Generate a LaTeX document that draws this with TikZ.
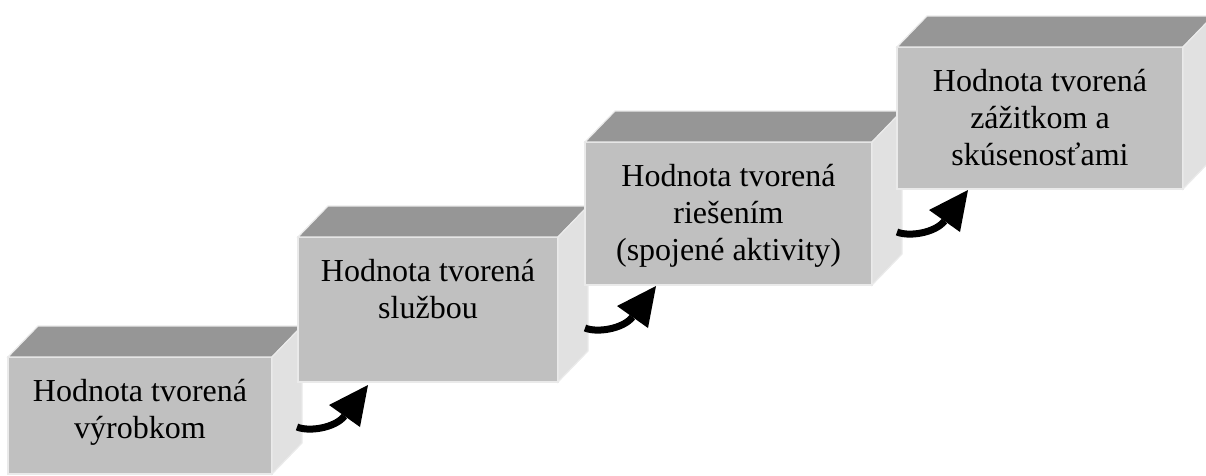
\documentclass[tikz,border=0pt]{standalone}
\usepackage{fontspec}
\setmainfont{Liberation Serif}
\usetikzlibrary{calc}
\definecolor{facefront}{HTML}{C0C0C0}
\definecolor{facetop}{HTML}{969696}
\definecolor{faceside}{HTML}{E1E1E1}
\definecolor{faceedge}{HTML}{EAEAEA}
\tikzset{
  frontface/.style={rectangle, fill=facefront, draw=faceedge, line width=1.2pt,
    inner sep=0pt, outer sep=0pt, anchor=north west},
  otherface/.style={draw=faceedge, line width=1.2pt, line join=miter},
  blocktext/.style={anchor=north, align=center, inner sep=0pt,
    font=\fontsize{32}{37}\selectfont},
  shaft/.style={line width=7pt, black},
  arrowhead/.style={fill=black, draw=none}
}
% one cuboid: name, left, top, width, height
\newcommand\tvblock[5]{%
  \node[frontface, minimum width=#4pt, minimum height=#5pt] (#1) at (#2,#3) {};
  \draw[otherface, fill=facetop] (#1.north west) -- ($(#1.north west)+(30,-31)$)
    -- ($(#1.north east)+(30,-31)$) -- (#1.north east) -- cycle;
  \draw[otherface, fill=faceside] (#1.north east) -- ($(#1.north east)+(30,-31)$)
    -- ($(#1.south east)+(30,-31)$) -- (#1.south east) -- cycle;
}
% curved arrow from a tail coordinate
\newcommand\tvarrow[1]{%
  \draw[shaft] (#1) .. controls ($(#1)+(12,5)$) and ($(#1)+(38,1)$) .. ($(#1)+(47.5,-11)$);
  \fill[arrowhead] ($(#1)+(71,-42)$) -- ($(#1)+(32,-22)$) -- ($(#1)+(63,0)$) -- cycle;
}
\begin{document}
\begin{tikzpicture}[x=1pt,y=-1pt]
\useasboundingbox (0,0) rectangle (1206,475);
\clip (0,0) rectangle (1206,475);

\tvblock{b1}{8}{357}{264}{117}
\node[blocktext] (t1) at ($(b1.north)+(0,14)$) {\rule{0pt}{30pt}Hodnota tvorená\\výrobkom};

\tvblock{b2}{298}{237}{260}{145}
\node[blocktext] (t2) at ($(b2.north)+(0,14)$) {\rule{0pt}{30pt}Hodnota tvorená\\službou};

\tvblock{b3}{585}{142}{287}{143}
\node[blocktext] (t3) at ($(b3.north)+(0,14)$) {\rule{0pt}{30pt}Hodnota tvorená\\riešením\\(spojené aktivity)};

\tvblock{b4}{897}{47}{286}{142}
\node[blocktext] (t4) at ($(b4.north)+(0,14)$) {\rule{0pt}{30pt}Hodnota tvorená\\zážitkom a\\skúsenosťami};

\coordinate (a1) at ($(b1.east |- b2.south)+(25,45)$);
\coordinate (a2) at ($(b2.east |- b3.south)+(27,43)$);
\coordinate (a3) at ($(b3.east |- b4.south)+(25,43)$);
\tvarrow{a1}
\tvarrow{a2}
\tvarrow{a3}
\end{tikzpicture}
\end{document}
